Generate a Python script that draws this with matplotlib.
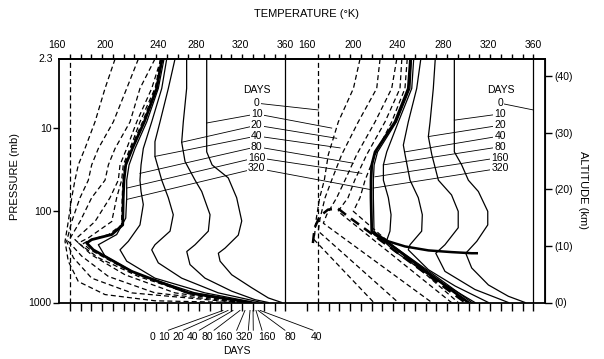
import matplotlib
matplotlib.use("Agg")
import matplotlib.pyplot as plt
import numpy as np

plt.rcParams['font.family'] = ['Liberation Sans', 'DejaVu Sans']

OFF = 230  # right panel is drawn shifted by 230 K on the shared x axis

# ---- left panel, solid (warm start) : altitude km / temperature K
ls10_z = [43.0, 26.6, 24.3, 22.0, 18.5, 14.4, 11.9, 9.6, 8.7, 7.3, 4.9, 2.6, 0.8, 0.0]
ls10_t = [287, 287, 292, 307, 314.8, 319.5, 316.3, 304, 297.8, 299.4, 310.2, 328.8, 344.2, 356.6]
ls20_z = [43.0, 37.8, 31.9, 28.3, 24.9, 21.6, 19.6, 15.5, 12.6, 10.2, 9.0, 6.7, 4.3, 2.0, 0.5, 0]
ls20_t = [268.4, 268.4, 265.3, 263.8, 266.9, 276.2, 282.4, 290.1, 288.5, 276.2, 268.5, 271.5, 285.4, 310.2, 331.8, 344.2]
ls40_z = [43.0, 37.8, 31.9, 28.4, 25.8, 21.6, 18.5, 15.5, 12.6, 10.2, 9.3, 7.0, 4.3, 1.7, 0]
ls40_t = [257.6, 251.4, 243.7, 239, 239, 245.3, 251.4, 256, 253, 239, 236, 242.1, 263.8, 297.8, 338]
ls80_z = [43.0, 37.8, 31.9, 27.2, 24.3, 21.6, 19.6, 17.3, 13.7, 10.8, 9.3, 7.3, 4.3, 1.7, 0]
ls80_t = [249.9, 245.3, 236, 228.2, 226.1, 225.1, 226.1, 228.2, 225.1, 214.3, 206.6, 212.8, 239, 285.4, 331.8]
ls160_z = [43.0, 37.8, 31.9, 27.2, 24.3, 21.6, 18.5, 14.9, 12.0, 10.2, 8.2, 4.9, 1.7, 0]
ls160_t = [247.4, 242.1, 231.4, 220.5, 215, 212.8, 212.8, 211.9, 203.5, 186.5, 192.7, 223.6, 276.2, 328.8]
ls320_z = [43.0, 37.8, 31.9, 27.2, 24.3, 21.6, 18.5, 13.7, 12.0, 11.1, 10.5, 9.3, 5.5, 1.7, 0]
ls320_t = [245.5, 240.6, 229.1, 218, 211.9, 210.3, 209.6, 209.1, 198.9, 180.3, 175.7, 181.8, 217.4, 270, 327.2]

# ---- left panel, dashed (cold start)
ld10_z = [43.0, 37.8, 31.9, 27.2, 24.3, 21.6, 18.5, 14.3, 10.8, 7.3, 3.7, 1.4, 0.3, 0]
ld10_t = [202, 192.7, 183.4, 174.1, 167.9, 164.8, 161.8, 158.6, 155.6, 158.6, 167.9, 192.7, 239, 313.3]
ld20_z = [43.0, 37.8, 31.9, 27.2, 24.3, 21.6, 18.5, 14.3, 10.8, 7.9, 4.3, 1.7, 0]
ld20_t = [223.6, 212.8, 200.4, 186.5, 180.3, 177.2, 169.5, 161.8, 157.1, 163.3, 180.3, 217.4, 316.3]
ld40_z = [43.0, 37.8, 31.9, 27.2, 24.3, 21.6, 18.5, 14.3, 10.8, 8.2, 4.6, 1.7, 0]
ld40_t = [239, 225.1, 215.9, 202, 195.8, 192.7, 180.3, 169.5, 158.6, 171, 195.8, 239, 319.5]
ld80_z = [43.0, 37.8, 31.9, 27.2, 24.3, 21.6, 18.5, 14.3, 11.1, 8.4, 4.9, 1.7, 0]
ld80_t = [244.6, 236, 222.1, 212.8, 206.6, 205, 197.3, 183.4, 164.8, 180.3, 211.2, 257.6, 322.5]
ld160_z = [43.0, 37.8, 31.9, 27.2, 24.3, 21.6, 18.5, 14.3, 11.4, 10.5, 7.9, 4.6, 1.7, 0]
ld160_t = [246.5, 239, 225.1, 215.9, 209.6, 208.1, 203.5, 198.9, 177.2, 167.9, 186.5, 223.6, 270, 325.6]
ld320_z = [43.0, 37.8, 31.9, 27.2, 24.3, 21.6, 18.5, 13.7, 12.0, 11.0, 10.4, 9.3, 5.5, 1.7, 0]
ld320_t = [244, 239.5, 227.5, 216.5, 210.8, 209.3, 208.6, 208, 196, 178, 172.5, 179, 215.5, 268.5, 326.4]

# ---- right panel, solid
rs10_z = [43.0, 26.6, 24.3, 21.6, 19.6, 16.1, 13.7, 10.8, 8.7, 6.1, 3.1, 1.1, 0]
rs10_t = [286.7, 286.7, 293.5, 299.7, 309, 317.7, 317.7, 307.5, 297.3, 302.8, 318.3, 336.8, 352.3]
rs20_z = [43.0, 37.8, 31.9, 29.3, 26.1, 21.6, 19.0, 16.1, 13.2, 10.2, 8.7, 5.5, 2.3, 0]
rs20_t = [269, 267.2, 264.2, 262.6, 265.8, 271.9, 284.1, 290.3, 290.3, 278, 269.5, 278, 305.8, 336.8]
rs40_z = [43.0, 37.8, 31.9, 27.8, 26.1, 21.6, 18.5, 15.5, 12.6, 10.2, 9.3, 5.8, 2.9, 0]
rs40_t = [255.6, 251.8, 244, 239.4, 241, 245.6, 253.3, 257, 256.4, 245.6, 244, 262.6, 287.5, 318.3]
rs80_z = [43.0, 37.8, 31.9, 26.6, 24.3, 21.6, 18.5, 15.5, 12.6, 10.5, 9.0, 4.9, 0]
rs80_t = [249, 247.2, 234.8, 224, 220.9, 220.9, 225.5, 228, 227, 223.1, 231.7, 262.6, 305.8]
rs160_z = [43.0, 37.8, 31.9, 26.6, 24.3, 21.6, 18.5, 12.6, 11.6, 5.2, 0]
rs160_t = [247, 245.5, 233, 215.5, 212.3, 211.6, 211.6, 212.2, 218, 265.5, 303]
rs320_z = [43.0, 37.8, 31.9, 26.6, 24.3, 21.6, 18.5, 12.6, 12.0, 10.5, 5.2, 0]
rs320_t = [246, 244, 231.7, 213.2, 210.1, 209.4, 209.4, 210.1, 213.2, 225.5, 262.6, 299.7]
trop_z = [12.3, 10.8, 9.9, 9.2, 8.9, 8.7, 8.7]
trop_t = [211.7, 225.5, 241, 262.6, 284.1, 302.8, 307.5]

# ---- right panel, dashed
rd10_z = [43.0, 37.8, 31.9, 26.1, 21.6, 18.5, 14.9, 11.1, 0]
rd10_t = [199.2, 193.1, 179.1, 169.8, 166.1, 161.8, 158.7, 156.6, 212]
rd20_z = [43.0, 37.8, 31.9, 26.1, 21.6, 18.5, 14.9, 12.6, 0]
rd20_t = [217.8, 214.7, 197.6, 182.2, 172.9, 166.8, 162.2, 160.5, 234.7]
rd40_z = [43.0, 37.8, 31.9, 26.1, 21.6, 18.5, 15.5, 14.0, 0]
rd40_t = [233.3, 228.6, 213.2, 196.1, 185.3, 177.6, 168.3, 165.2, 265.8]
rd80_z = [43.0, 37.8, 31.9, 26.1, 21.6, 18.5, 16.1, 0]
rd80_t = [238, 236.3, 222.4, 205.4, 194.3, 188.1, 178.8, 284]
rd160_z = [43.0, 37.8, 31.9, 26.1, 21.6, 18.5, 16.1, 0]
rd160_t = [243, 240.9, 228.6, 213.2, 203.9, 199.2, 193, 290.3]
arc_z = [10.5, 13.2, 15.2, 16.4, 16.6, 15.2, 0]
arc_t = [155.5, 157.1, 161.8, 169.5, 178.8, 188.1, 296.7]

# ---- labels
days = ['0', '10', '20', '40', '80', '160', '320']
lab_z = [35.2, 33.3, 31.3, 29.4, 27.5, 25.6, 23.7]
# left-panel labels: target on the left curves / on the right-panel curves (x on shared axis)
left_tx = [None, 287, 263.8, 239, 225.1, 212.8, 212.8]
left_tz = [None, 31.7, 28.3, 25.8, 22.8, 20.2, 18.2]
cross_tx = [390.5, 403, 407.6, 410.8, 423.1, 430.9, 440.1]
cross_tz = [34.0, 30.8, 29.0, 27.3, 24.6, 22.8, 19.9]
# right-panel labels
right_tx = [590, 516.7, 492.6, 471, 450.8, 443.1, 441.3]
right_tz = [34.0, 32.2, 29.3, 26.6, 24.3, 22.2, 20.2]

bot_days = ['0', '10', '20', '40', '80', '160', '320', '160', '80', '40']
bot_lab_x = [236.9, 247.4, 260.7, 274, 287.6, 303.3, 321.6, 342.7, 364.3, 389]
bot_start_x = [251.4, 265.3, 280.1, 293.8, 314.8, 325.6, 330.2, 338.3, 359.6, 385.6]
bot_end_x = [302.1, 306.8, 311.4, 317.9, 322.5, 327.2, 330, 332.7, 334.6, 336.5]

top_vals = [160, 200, 240, 280, 320, 360]
top_lab_left = [147.9, 192.7, 242.1, 277.7, 317.9, 359.6]
top_lab_right = [379.8, 423, 463.3, 506.5, 548.3, 590]

p_labels = ['10', '100', '1000']
p_alt = [30.83, 16.17, 0]

fig = plt.figure(figsize=(6.04, 3.59), dpi=100)
ax = fig.add_axes([59/604, 1-302.5/359, 486/604, 243.5/359])
ax.set_xlim(150, 600.8)
ax.set_ylim(0, 43.0)
for s in ax.spines.values():
    s.set_linewidth(1.3)

DASH = (0, (4, 2.5))
FS = 7.5

def curve(t, z, off=0, dashed=False, lw=0.9):
    ax.plot(np.array(t) + off, z, color='k', lw=lw,
            linestyle=DASH if dashed else '-', zorder=3)

# left panel
curve([360, 360], [0, 43])
curve([160, 160], [0, 43], dashed=True)
curve(ls10_t, ls10_z); curve(ls20_t, ls20_z); curve(ls40_t, ls40_z)
curve(ls80_t, ls80_z); curve(ls160_t, ls160_z); curve(ls320_t, ls320_z, lw=2.0)
for t, z in [(ld10_t, ld10_z), (ld20_t, ld20_z), (ld40_t, ld40_z),
             (ld80_t, ld80_z), (ld160_t, ld160_z), (ld320_t, ld320_z)]:
    curve(t, z, dashed=True)

# right panel
curve([360, 360], [0, 43], OFF)
curve([160, 160], [0, 43], OFF, dashed=True)
curve(rs10_t, rs10_z, OFF); curve(rs20_t, rs20_z, OFF); curve(rs40_t, rs40_z, OFF)
curve(rs80_t, rs80_z, OFF); curve(rs160_t, rs160_z, OFF); curve(rs320_t, rs320_z, OFF, lw=2.0)
curve(trop_t, trop_z, OFF, lw=1.8)
for t, z in [(rd10_t, rd10_z), (rd20_t, rd20_z), (rd40_t, rd40_z),
             (rd80_t, rd80_z), (rd160_t, rd160_z)]:
    curve(t, z, OFF, dashed=True)
curve(arc_t, arc_z, OFF, dashed=True, lw=1.8)

# day labels with leader lines
box = dict(fc='white', ec='none', pad=0.8)
LX, RX = 333.4, 559.1
ax.text(LX, 37.5, 'DAYS', ha='center', va='center', fontsize=FS, zorder=6)
ax.text(RX + 1, 37.5, 'DAYS', ha='center', va='center', fontsize=FS, zorder=6)
for i, d in enumerate(days):
    z = lab_z[i]
    if left_tx[i] is not None:
        ax.plot([LX, left_tx[i]], [z, left_tz[i]], color='k', lw=0.6, zorder=4)
    ax.plot([LX, cross_tx[i]], [z, cross_tz[i]], color='k', lw=0.6, zorder=4)
    ax.plot([RX, right_tx[i]], [z, right_tz[i]], color='k', lw=0.6, zorder=4)
    ax.text(LX, z, d, ha='center', va='center', fontsize=FS, bbox=box, zorder=6)
    ax.text(RX, z, d, ha='center', va='center', fontsize=FS, bbox=box, zorder=6)

# bottom day labels
for i, d in enumerate(bot_days):
    ax.plot([bot_start_x[i], bot_end_x[i]], [-4.9, -1.4], color='k', lw=0.6, clip_on=False)
    ax.text(bot_lab_x[i], -6.1, d, ha='center', va='center', fontsize=FS, clip_on=False)
ax.text(314.8, -8.6, 'DAYS', ha='center', va='center', fontsize=FS)

# ticks
bot_ticks = list(range(160, 361, 10)) + [t + OFF for t in range(150, 361, 10)]
ax.set_xticks(bot_ticks)
ax.tick_params(axis='x', bottom=True, labelbottom=False, direction='out', length=5.8, width=1)
top = ax.secondary_xaxis('top')
top.set_xticks(list(range(160, 361, 10)) + [t + OFF for t in range(160, 361, 10)])
top.tick_params(direction='out', length=3.6, width=1, labeltop=False)
top.set_xticklabels([])
top.spines['top'].set_linewidth(1.3)
for v, xl, xr in zip(top_vals, top_lab_left, top_lab_right):
    ax.text(xl, 1.058, str(v), transform=ax.get_xaxis_transform(), ha='center', va='center', fontsize=FS)
    ax.text(xr, 1.058, str(v), transform=ax.get_xaxis_transform(), ha='center', va='center', fontsize=FS)

ax.set_yticks(p_alt)
ax.set_yticklabels(p_labels)
ax.tick_params(axis='y', direction='out', length=4.3, width=1, labelsize=FS, pad=1)
ax.text(-0.012, 1.0, '2.3', transform=ax.transAxes, ha='right', va='center', fontsize=FS)
alt = ax.secondary_yaxis('right')
alt.set_yticks([0, 10, 20, 30, 40])
alt.set_yticklabels(['(0)', '(10)', '(20)', '(30)', '(40)'])
alt.tick_params(direction='out', length=5, width=1, labelsize=FS, pad=2)

fig.text(306/604, 1-14/359, 'TEMPERATURE (°K)', ha='center', va='center', fontsize=8)
fig.text(15/604, 1-177/359, 'PRESSURE (mb)', ha='center', va='center', fontsize=8, rotation=90)
fig.text(583/604, 1-190/359, 'ALTITUDE (km)', ha='center', va='center', fontsize=8, rotation=-90)

fig.savefig('out.png', dpi=100)
